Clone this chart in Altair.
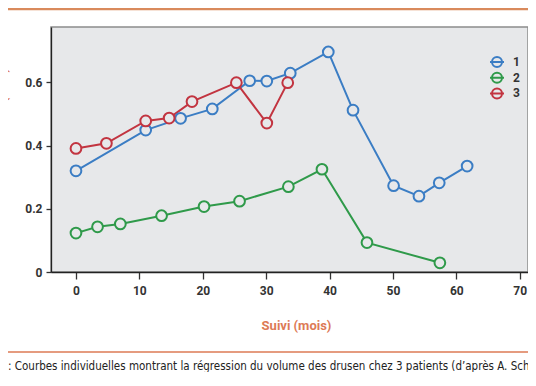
import altair as alt
import pandas as pd

# ---- data ----
months_1 = [0, 11.0, 16.5, 21.5, 27.4, 30.1, 33.8, 39.8, 43.7, 50.1, 54.1, 57.3, 61.7]
volume_1 = [0.320, 0.449, 0.486, 0.516, 0.605, 0.604, 0.629, 0.696, 0.512, 0.273, 0.240, 0.282, 0.335]
months_2 = [0, 3.4, 7.0, 13.5, 20.2, 25.8, 33.5, 38.8, 45.9, 57.4]
volume_2 = [0.123, 0.143, 0.152, 0.178, 0.207, 0.224, 0.270, 0.325, 0.093, 0.029]
months_3 = [0, 4.8, 11.0, 14.7, 18.3, 25.3, 30.1, 33.4]
volume_3 = [0.391, 0.407, 0.478, 0.487, 0.539, 0.599, 0.471, 0.599]

patients = ["1", "2", "3"]
colors = ["#3b7dc4", "#2f9a4a", "#c23440"]
x_ticks = [0, 10, 20, 30, 40, 50, 60, 70]
y_ticks = [0, 0.2, 0.4, 0.6]
x_title = "Suivi (mois)"
y_title = "Volume des drusen (mm³)"
caption = (": Courbes individuelles montrant la régression du volume des drusen "
           "chez 3 patients (d’après A. Schlanitz et al.)")

rows = []
for p, xs, ys in zip(patients, [months_1, months_2, months_3], [volume_1, volume_2, volume_3]):
    for i, (mx, vy) in enumerate(zip(xs, ys)):
        rows.append({"patient": p, "mois": mx, "volume": vy, "idx": i})
df = pd.DataFrame(rows)

W, H = 477, 245
BG = "#e7e8ea"
ORANGE = "#dd7a55"
FONT = "Roboto"

color = alt.Color(
    "patient:N",
    scale=alt.Scale(domain=patients, range=colors),
    legend=alt.Legend(
        title=None,
        orient="none",
        legendX=440,
        legendY=29,
        symbolType="M-1,0A1,1 0 1,0 1,0A1,1 0 1,0 -1,0M-1.4,0L1.4,0",
        symbolSize=100,
        symbolStrokeWidth=2,
        symbolFillColor="transparent",
        labelFont=FONT,
        labelFontSize=12,
        labelFontWeight="bold",
        labelColor="#333333",
        labelOffset=10,
        rowPadding=-2.3,
    ),
)

x_enc = alt.X(
    "mois:Q",
    scale=alt.Scale(domain=[-3.94, 71.3], nice=False, zero=False),
    axis=alt.Axis(
        values=x_ticks, title=x_title, grid=False,
        domainColor="#222222", domainWidth=1.3,
        tickColor="#333333", tickSize=7, tickWidth=1.3,
        labelFont=FONT, labelFontSize=12, labelFontWeight="bold",
        labelColor="#333333", labelPadding=6,
        titleFont=FONT, titleFontSize=13, titleFontWeight="bold",
        titleColor=ORANGE, titleY=53, titleX=245, titleBaseline="middle",
    ),
)
y_enc = alt.Y(
    "volume:Q",
    scale=alt.Scale(domain=[0, 0.775], nice=False),
    axis=alt.Axis(
        values=y_ticks, format=".1~f", title=y_title, grid=False,
        domainColor="#222222", domainWidth=1.3,
        tickColor="#333333", tickSize=5, tickWidth=1.3,
        labelFont=FONT, labelFontSize=12, labelFontWeight="bold",
        labelColor="#333333", labelPadding=4,
        titleFont=FONT, titleFontSize=12, titleFontWeight="bold",
        titleColor=ORANGE, titleX=-42, titleY=111, titleBaseline="bottom",
        titleAngle=270,
    ),
)

lines = alt.Chart(df).mark_line(strokeWidth=2).encode(
    x=x_enc, y=y_enc, color=color, order="idx:Q", detail="patient:N"
)
points = alt.Chart(df).mark_point(
    shape="circle", size=115, filled=False, fill=BG, fillOpacity=1, strokeWidth=2, opacity=1
).encode(x="mois:Q", y="volume:Q", color=alt.Color("patient:N", legend=None))

top_rule = alt.Chart(pd.DataFrame({"k": [0]})).mark_rule(
    color="#d98a5c", strokeWidth=2.5
).encode(x=alt.value(-43), x2=alt.value(W), y=alt.value(-18))
bottom_rule = alt.Chart(pd.DataFrame({"k": [0]})).mark_rule(
    color=ORANGE, strokeWidth=1.5
).encode(x=alt.value(-43), x2=alt.value(W), y=alt.value(325))
cap = alt.Chart(pd.DataFrame({"t": [caption]})).mark_text(
    align="left", baseline="middle", font="Liberation Sans Narrow, DejaVu Sans Condensed, sans-serif",
    fontSize=11.5, color="#222222"
).encode(text="t:N", x=alt.value(-43), y=alt.value(340))

chart = alt.layer(lines, points, top_rule, bottom_rule, cap).properties(
    width=W, height=H,
    autosize=alt.AutoSizeParams(type="none"),
    padding={"left": 43, "top": 19, "right": 0, "bottom": 100},
    background="white",
).configure_view(fill=BG, stroke="#8c8c8c", strokeWidth=1.5)

chart.save("out.html", embed_options={"renderer": "svg", "actions": False})
